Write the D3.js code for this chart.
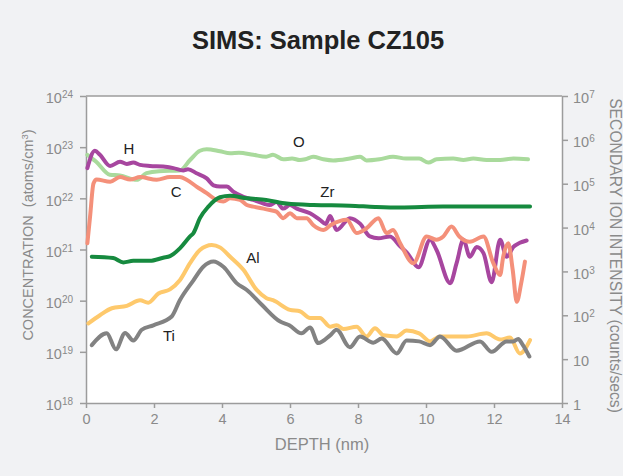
<!DOCTYPE html>
<html>
<head>
<meta charset="utf-8">
<script src="https://d3js.org/d3.v7.min.js"></script>
<style>
  body { margin: 0; background: #f1f2f4; }
  svg { display: block; font-family: "Liberation Sans", Arial, sans-serif; }
</style>
</head>
<body>
<svg id="chart" width="623" height="476"></svg>
<script>
// depth (nm), concentration (atoms/cm3)
var oxygen = [[0.04,7.1e22],[0.3,5.2e22],[0.7,2.9e22],[1.0,2.8e22],[1.49,2.3e22],[1.78,3.1e22],[2.15,3.4e22],[2.76,3.5e22],
  [3.06,5.6e22],[3.35,8.5e22],[3.55,9.1e22],[3.94,8.3e22],[4.24,7.6e22],[4.5,7.8e22],[4.92,7.1e22],[5.3,6.5e22],[5.5,7.1e22],
  [5.8,5.8e22],[6.06,6.0e22],[6.29,5.6e22],[6.45,5.8e22],[6.68,6.5e22],[6.98,5.8e22],[7.27,5.5e22],[7.76,6.0e22],[8.06,6.5e22],
  [8.25,5.5e22],[8.63,5.8e22],[9.03,6.5e22],[9.41,6.0e22],[9.8,6.0e22],[10.07,5.0e22],[10.31,5.8e22],[10.8,6.0e22],[11.1,5.6e22],
  [11.39,6.0e22],[11.78,5.6e22],[12.18,5.6e22],[12.57,6.0e22],[13.0,5.8e22]];
var hydrogen = [[0.04,3.9e22],[0.26,8.5e22],[0.41,7.1e22],[0.71,4.3e22],[1.0,5.2e22],[1.2,4.7e22],[1.39,5.0e22],[1.59,4.5e22],
  [1.88,4.3e22],[2.27,4.2e22],[2.57,3.9e22],[2.86,3.5e22],[3.0,3.7e22],[3.25,3.1e22],[3.55,2.45e22],[3.75,1.8e22],[3.94,1.7e22],
  [4.14,1.7e22],[4.33,1.35e22],[4.63,1.07e22],[4.92,9.3e21],[5.22,7.9e21],[5.4,7.4e21],[5.6,8.5e21],[5.8,6.3e21],[6.0,7.4e21],
  [6.2,6.3e21],[6.59,5.1e21],[6.88,3.8e21],[7.05,3.16e21],[7.18,4.5e21],[7.37,2.4e21],[7.76,4.1e21],[8.06,3.2e21],[8.35,1.8e21],
  [8.6,1.66e21],[8.94,1.8e21],[9.24,1.15e21],[9.45,8.5e20],[9.78,4.5e20],[10.12,1.55e21],[10.31,9.8e20],[10.71,2.2e20],
  [10.9,5.4e20],[11.1,1.55e21],[11.29,7.2e20],[11.49,1.12e21],[11.69,8.5e20],[11.93,2.3e20],[12.18,1.55e21],[12.37,7.2e20],
  [12.57,1.12e21],[12.76,1.35e21],[12.96,1.5e21]];
var carbon = [[0.04,1.32e21],[0.12,4.4e21],[0.22,1.95e22],[0.31,2.34e22],[0.71,2.1e22],[1.0,2.6e22],[1.3,2.34e22],[1.59,2.6e22],
  [2.08,2.3e22],[2.47,2.6e22],[2.76,2.6e22],[2.96,2.3e22],[3.25,1.7e22],[3.55,1.26e22],[3.84,9.3e21],[4.04,8.7e21],[4.24,1.0e22],
  [4.53,9.3e21],[4.73,7.4e21],[4.92,6.9e21],[5.22,6.3e21],[5.41,5.9e21],[5.6,5.5e21],[5.8,4.1e21],[6.0,5.1e21],[6.2,4.1e21],
  [6.49,4.1e21],[6.68,3.0e21],[6.98,2.4e21],[7.2,3.0e21],[7.67,3.8e21],[7.96,2.1e21],[8.25,2.6e21],[8.6,4.1e21],[8.84,2.1e21],
  [9.03,2.4e21],[9.24,1.32e21],[9.63,5.4e20],[10.02,1.8e21],[10.31,1.55e21],[10.51,1.8e21],[10.75,2.8e21],[10.98,1.8e21],
  [11.29,1.41e21],[11.69,1.8e21],[11.98,5.4e20],[12.18,3.16e20],[12.27,7.2e20],[12.42,1.32e21],[12.55,4.0e20],[12.67,9.5e19],
  [12.8,2.2e20],[12.91,5.8e20]];
var zirconium = [[0.17,7.2e20],[0.8,6.8e20],[1.1,5.6e20],[1.39,6.0e20],[1.88,6.0e20],[2.27,6.9e20],[2.47,7.4e20],[2.76,1.05e21],
  [3.06,1.8e21],[3.16,2.1e21],[3.35,4.1e21],[3.6,6.9e21],[3.94,1.05e22],[4.24,1.12e22],[4.73,1.0e22],[5.3,9.3e21],[5.9,7.9e21],
  [6.69,7.4e21],[7.76,7.2e21],[8.5,6.8e21],[9.24,6.6e21],[10.5,6.9e21],[11.5,6.9e21],[12.3,6.9e21],[13.06,6.9e21]];
var aluminium = [[0.07,3.6e19],[0.41,5.2e19],[0.76,7.1e19],[1.2,7.9e19],[1.59,1.02e20],[1.83,9.1e19],[2.13,1.38e20],[2.47,1.66e20],
  [2.76,2.5e20],[3.06,5.4e20],[3.35,9.8e20],[3.7,1.23e21],[3.94,1.1e21],[4.24,7.2e20],[4.63,4.0e20],[5.02,1.62e20],[5.31,1.12e20],
  [5.5,1.02e20],[6.0,6.6e19],[6.29,6.2e19],[6.59,4.6e19],[6.88,4.6e19],[7.18,3.1e19],[7.37,3.3e19],[7.57,2.8e19],[7.96,3.1e19],
  [8.25,2.0e19],[8.5,2.9e19],[8.75,2.1e19],[9.14,2.0e19],[9.43,2.6e19],[9.8,2.3e19],[10.12,1.6e19],[10.41,2.0e19],[11.2,2.0e19],
  [11.78,2.3e19],[12.18,1.74e19],[12.47,1.9e19],[12.76,9.3e18],[13.06,1.7e19]];
var titanium = [[0.17,1.35e19],[0.61,2.3e19],[0.88,1.12e19],[1.15,2.34e19],[1.39,1.66e19],[1.64,2.7e19],[1.98,3.3e19],[2.52,4.9e19],
  [2.76,1.02e20],[3.16,2.5e20],[3.45,4.6e20],[3.75,5.8e20],[4.04,4.6e20],[4.43,2.2e20],[4.73,1.62e20],[5.17,8.3e19],[5.71,3.9e19],
  [5.98,3.3e19],[6.34,2.3e19],[6.59,3.0e19],[6.83,1.48e19],[7.18,2.1e19],[7.37,2.7e19],[7.76,1.23e19],[8.06,2.0e19],[8.45,1.51e19],
  [8.7,1.82e19],[9.14,9.3e18],[9.43,1.66e19],[9.8,1.6e19],[10.12,1.35e19],[10.41,2.0e19],[10.9,1.05e19],[11.59,1.6e19],
  [11.93,1.0e19],[12.37,1.6e19],[12.57,1.6e19],[12.71,1.78e19],[12.85,1.35e19],[13.04,8.1e18]];

var depthTicks = [0, 2, 4, 6, 8, 10, 12, 14];
var concTicks = [1e18, 1e19, 1e20, 1e21, 1e22, 1e23, 1e24];
var ionTicks = [1, 10, 1e2, 1e3, 1e4, 1e5, 1e6, 1e7];

var series = [
  {name: "O",  data: oxygen,    color: "#a9da9c", label: [6.26, 1.02e23]},
  {name: "H",  data: hydrogen,  color: "#a7469f", label: [1.26, 7.4e22]},
  {name: "C",  data: carbon,    color: "#f4907a", label: [2.65, 1.07e22]},
  {name: "Zr", data: zirconium, color: "#168a3f", label: [7.1, 1.07e22]},
  {name: "Al", data: aluminium, color: "#fec96c", label: [4.91, 5.4e20]},
  {name: "Ti", data: titanium,  color: "#828282", label: [2.44, 1.62e19]}
];

var svg = d3.select("#chart");
var plotL = 86, plotR = 562, plotT = 96, plotB = 403;
var axisColor = "#9c9c9c", textColor = "#8a8a8a";

var x = d3.scaleLinear().domain([0, 14]).range([plotL, plotR]);
var y = d3.scaleLog().domain([1e18, 1e24]).range([plotB, plotT]);
var yR = d3.scaleLog().domain([1, 1e7]).range([plotB, plotT]);

svg.append("rect").attr("x", plotL).attr("y", plotT)
  .attr("width", plotR - plotL).attr("height", plotB - plotT)
  .attr("fill", "#fff");
svg.append("line").attr("x1", plotL).attr("x2", plotR).attr("y1", plotT).attr("y2", plotT)
  .attr("stroke", axisColor).attr("stroke-width", 1.5);

function styleAxis(g) {
  g.selectAll("path.domain").attr("stroke", axisColor).attr("stroke-width", 1.5);
  g.selectAll(".tick line").attr("stroke", axisColor).attr("stroke-width", 1.5);
  g.selectAll(".tick text").attr("fill", textColor).attr("font-size", 14.5)
    .attr("font-family", "Liberation Sans, Arial, sans-serif");
}

function powerLabel(sel, plain) {
  sel.selectAll(".tick text").each(function(d) {
    var e = Math.round(Math.log10(d));
    var t = d3.select(this).text(null).attr("dy", "0.46em");
    if (plain && e <= 1) { t.text(e === 0 ? "1" : "10"); return; }
    t.append("tspan").text("10");
    t.append("tspan").attr("dy", -5).attr("font-size", 10).text(e);
  });
}

var gx = svg.append("g").attr("transform", "translate(0," + plotB + ")")
  .call(d3.axisBottom(x).tickValues(depthTicks).tickSize(5).tickPadding(6).tickSizeOuter(0));
styleAxis(gx);

var gy = svg.append("g").attr("transform", "translate(" + plotL + ",0)")
  .call(d3.axisLeft(y).tickValues(concTicks).tickSize(6).tickPadding(7).tickSizeOuter(0));
styleAxis(gy);
powerLabel(gy, false);

var gr = svg.append("g").attr("transform", "translate(" + plotR + ",0)")
  .call(d3.axisRight(yR).tickValues(ionTicks).tickSize(6).tickPadding(5).tickSizeOuter(0));
styleAxis(gr);
powerLabel(gr, true);

var line = d3.line()
  .x(function(d) { return x(d[0]); })
  .y(function(d) { return y(d[1]); })
  .curve(d3.curveMonotoneX);

svg.append("g").selectAll("path")
  .data(series)
  .enter()
  .append("path")
  .attr("d", function(d) { return line(d.data); })
  .attr("fill", "none")
  .attr("stroke", function(d) { return d.color; })
  .attr("stroke-width", 4)
  .attr("stroke-linejoin", "round")
  .attr("stroke-linecap", "round");

svg.append("g").selectAll("text")
  .data(series)
  .enter()
  .append("text")
  .attr("x", function(d) { return x(d.label[0]); })
  .attr("y", function(d) { return y(d.label[1]); })
  .attr("text-anchor", "middle")
  .attr("font-size", 15)
  .attr("fill", "#222")
  .text(function(d) { return d.name; });

// titles
svg.append("text").attr("x", 318).attr("y", 49)
  .attr("text-anchor", "middle").attr("font-size", 25.5).attr("font-weight", "bold")
  .attr("fill", "#222").text("SIMS: Sample CZ105");

svg.append("text").attr("x", 322).attr("y", 450)
  .attr("text-anchor", "middle").attr("font-size", 16.5)
  .attr("fill", textColor).text("DEPTH (nm)");

var yl = svg.append("text")
  .attr("transform", "translate(32.5,235) rotate(-90)")
  .attr("text-anchor", "middle").attr("font-size", 14.5).attr("fill", textColor);
yl.append("tspan").text("CONCENTRATION");
yl.append("tspan").attr("dx", 8).text("(atoms/cm");
yl.append("tspan").attr("dy", -5).attr("font-size", 9.5).text("3");
yl.append("tspan").attr("dy", 5).text(")");

svg.append("text")
  .attr("transform", "translate(610,255.5) rotate(90)")
  .attr("text-anchor", "middle").attr("font-size", 15.7).attr("fill", textColor)
  .text("SECONDARY ION INTENSITY (counts/secs)");
</script>
</body>
</html>
